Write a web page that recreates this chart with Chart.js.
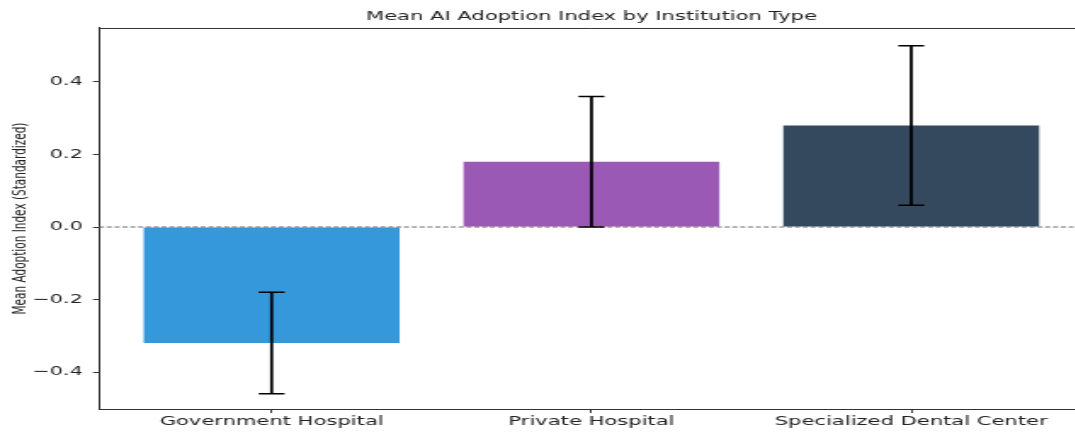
<!DOCTYPE html>
<html>
<head>
<meta charset="utf-8">
<script src="https://cdn.jsdelivr.net/npm/chart.js@4/dist/chart.umd.min.js"></script>
<style>
  html, body { margin: 0; padding: 0; background: #fff; }
  #wrap { width: 1075px; height: 432px; overflow: hidden; }
  /* the figure is drawn narrow and stretched sideways */
  #chart { transform: scaleX(1.7); transform-origin: 0 0; }
</style>
</head>
<body>
<div id="wrap">
  <canvas id="chart" width="640" height="432" style="width:640px;height:432px"></canvas>
</div>
<script>
const categories = ["Government Hospital", "Private Hospital", "Specialized Dental Center"];
const meanIndex = [-0.32, 0.18, 0.28];
const errorSize = [0.14, 0.18, 0.22];
const barColors = ["#3498db", "#9b59b6", "#34495e"];
const yTicks = [-0.4, -0.2, 0.0, 0.2, 0.4];
const xRange = [-0.54, 2.54];
const yRange = [-0.502, 0.549];
const titleText = "Mean AI Adoption Index by Institution Type";
const yLabel = "Mean Adoption Index (Standardized)";

const FONT = "'DejaVu Sans', sans-serif";
const AXIS = "#333";

// error bars at each bar centre, mean +/- error
const errorBars = {
  id: "errorBars",
  afterDatasetsDraw(chart) {
    const { ctx, scales } = chart;
    const x = scales.x, y = scales.y;
    ctx.save();
    ctx.strokeStyle = "#000";
    meanIndex.forEach((m, i) => {
      const px = x.getPixelForValue(i);
      const top = y.getPixelForValue(m + errorSize[i]);
      const bot = y.getPixelForValue(m - errorSize[i]);
      ctx.lineWidth = 1.8;
      ctx.beginPath();
      ctx.moveTo(px, top);
      ctx.lineTo(px, bot);
      ctx.stroke();
      ctx.lineWidth = 1.6;
      ctx.beginPath();
      ctx.moveTo(px - 7.6, top);
      ctx.lineTo(px + 7.6, top);
      ctx.moveTo(px - 7.6, bot);
      ctx.lineTo(px + 7.6, bot);
      ctx.stroke();
    });
    ctx.restore();
  },
};

// top and right spines
const frame = {
  id: "frame",
  afterDraw(chart) {
    const { ctx, chartArea: a } = chart;
    ctx.save();
    ctx.strokeStyle = AXIS;
    ctx.lineWidth = 1;
    ctx.beginPath();
    ctx.moveTo(a.left, a.top + 0.5);
    ctx.lineTo(a.right, a.top + 0.5);
    ctx.lineTo(a.right, a.bottom);
    ctx.stroke();
    ctx.restore();
  },
};

const fmt = (v) => (v < 0 ? "\u2212" + Math.abs(v).toFixed(1) : v.toFixed(1));

new Chart(document.getElementById("chart"), {
  type: "bar",
  data: {
    datasets: [
      {
        type: "line",
        data: [{ x: xRange[0], y: 0 }, { x: xRange[1], y: 0 }],
        borderColor: "#666",
        borderWidth: 1,
        borderDash: [3, 1.6],
        pointRadius: 0,
        order: 0,
      },
      {
        data: meanIndex.map((v, i) => ({ x: i, y: v })),
        backgroundColor: barColors,
        borderWidth: 0,
        barPercentage: 1,
        categoryPercentage: 0.8,
        order: 1,
      },
    ],
  },
  options: {
    responsive: false,
    devicePixelRatio: 1,
    animation: false,
    layout: { padding: { left: 0, right: 2.4, top: 0, bottom: 0 } },
    plugins: {
      legend: { display: false },
      tooltip: { enabled: false },
      title: {
        display: true,
        text: titleText,
        fullSize: false,
        color: "#222",
        font: { family: FONT, size: 12.4, weight: "normal" },
        padding: { top: 9, bottom: 4.1 },
      },
    },
    scales: {
      x: {
        type: "linear",
        min: xRange[0],
        max: xRange[1],
        offset: false,
        afterBuildTicks: (s) => { s.ticks = categories.map((_, i) => ({ value: i })); },
        afterFit: (s) => { s.height = 23; },
        ticks: {
          callback: (v) => categories[v],
          color: "#222",
          font: { family: FONT, size: 12.4 },
          padding: 1.5,
          maxRotation: 0,
          autoSkip: false,
        },
        grid: { drawOnChartArea: false, offset: false, tickLength: 4, tickColor: AXIS, tickWidth: 1 },
        border: { color: AXIS, width: 1 },
      },
      y: {
        min: yRange[0],
        max: yRange[1],
        afterBuildTicks: (s) => { s.ticks = yTicks.map((v) => ({ value: v })); },
        afterFit: (s) => { s.width = 58.2; },
        ticks: {
          callback: (v) => fmt(v),
          color: "#222",
          font: { family: FONT, size: 12.2 },
          padding: 6,
        },
        grid: { drawOnChartArea: false, tickLength: 3.5, tickColor: AXIS, tickWidth: 1 },
        border: { color: AXIS, width: 1 },
        title: {
          display: true,
          text: yLabel,
          color: "#222",
          font: { family: FONT, size: 10.5 },
          padding: { top: 6, bottom: 0 },
        },
      },
    },
  },
  plugins: [errorBars, frame],
});
</script>
</body>
</html>
